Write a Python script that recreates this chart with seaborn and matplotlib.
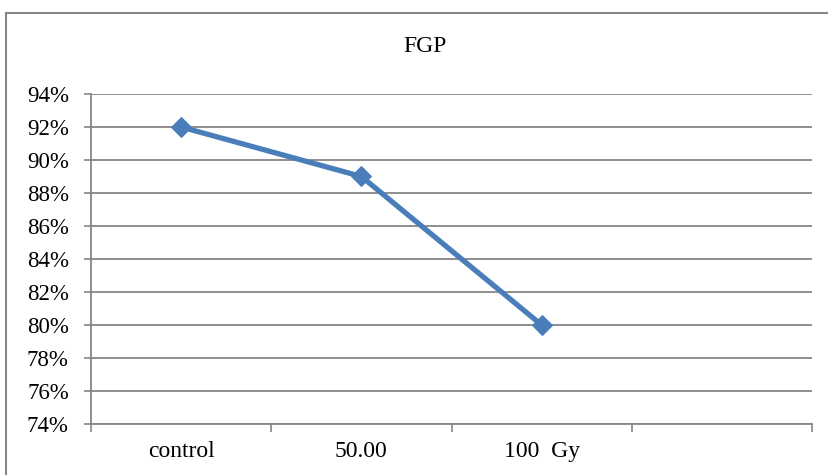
import matplotlib
matplotlib.use("Agg")
import matplotlib.pyplot as plt
import matplotlib.ticker as mticker
from matplotlib.patches import Rectangle
import pandas as pd
import seaborn as sns

categories = ["control", "50.00", "100  Gy"]
fgp = [0.92, 0.89, 0.80]
y_ticks = [0.74, 0.76, 0.78, 0.80, 0.82, 0.84, 0.86, 0.88, 0.90, 0.92, 0.94]

df = pd.DataFrame({"dose": categories, "fgp": fgp})

sns.set_style("white", {"text.color": "black", "xtick.color": "black",
                        "ytick.color": "black"})
plt.rcParams["font.family"] = ["Liberation Serif", "DejaVu Serif"]

grey = "#868686"
blue = "#4A7EBB"

fig = plt.figure(figsize=(8.29, 4.75), dpi=100)
ax = fig.add_axes([0.1098, 0.1074, 0.8697, 0.6947])

sns.lineplot(data=df, x="dose", y="fgp", ax=ax, color=blue, linewidth=3.8,
             marker="D", markersize=10.5, markeredgecolor=blue, sort=False)

ax.set_xlim(-0.5, 3.5)
ax.set_ylim(0.74, 0.94)
ax.set_yticks(y_ticks)
ax.yaxis.set_major_formatter(mticker.FuncFormatter(lambda v, p: f"{v * 100:.0f}%"))
ax.grid(axis="y", color=grey, linewidth=1.3)
ax.set_axisbelow(True)

# tick marks between categories, labels at category centres
ax.set_xticks([-0.5, 0.5, 1.5, 2.5, 3.5])
ax.set_xticklabels([])
ax.set_xticks([0, 1, 2], minor=True)
ax.set_xticklabels(categories, minor=True)
ax.tick_params(axis="x", which="major", direction="out", length=6, width=1.2,
               color=grey, bottom=True)
ax.tick_params(axis="x", which="minor", length=0, pad=12, labelsize=17,
               labelcolor="black")
ax.tick_params(axis="y", direction="out", length=5, width=1.2, color=grey,
               left=True, labelsize=16.5, pad=11, labelcolor="black")

for side in ["top", "right"]:
    ax.spines[side].set_visible(False)
for side in ["left", "bottom"]:
    ax.spines[side].set_color(grey)
    ax.spines[side].set_linewidth(1.3)

ax.set_xlabel("")
ax.set_ylabel("")
fig.text(425 / 829, 1 - 47 / 475, "FGP", fontsize=17, ha="center", va="center",
         color="black")

fig.patches.append(Rectangle((6 / 829, -0.2), 1.2, 1.2 - 13 / 475,
                             transform=fig.transFigure, fill=False,
                             edgecolor=grey, linewidth=1.5))

fig.savefig("out.png", dpi=100)
